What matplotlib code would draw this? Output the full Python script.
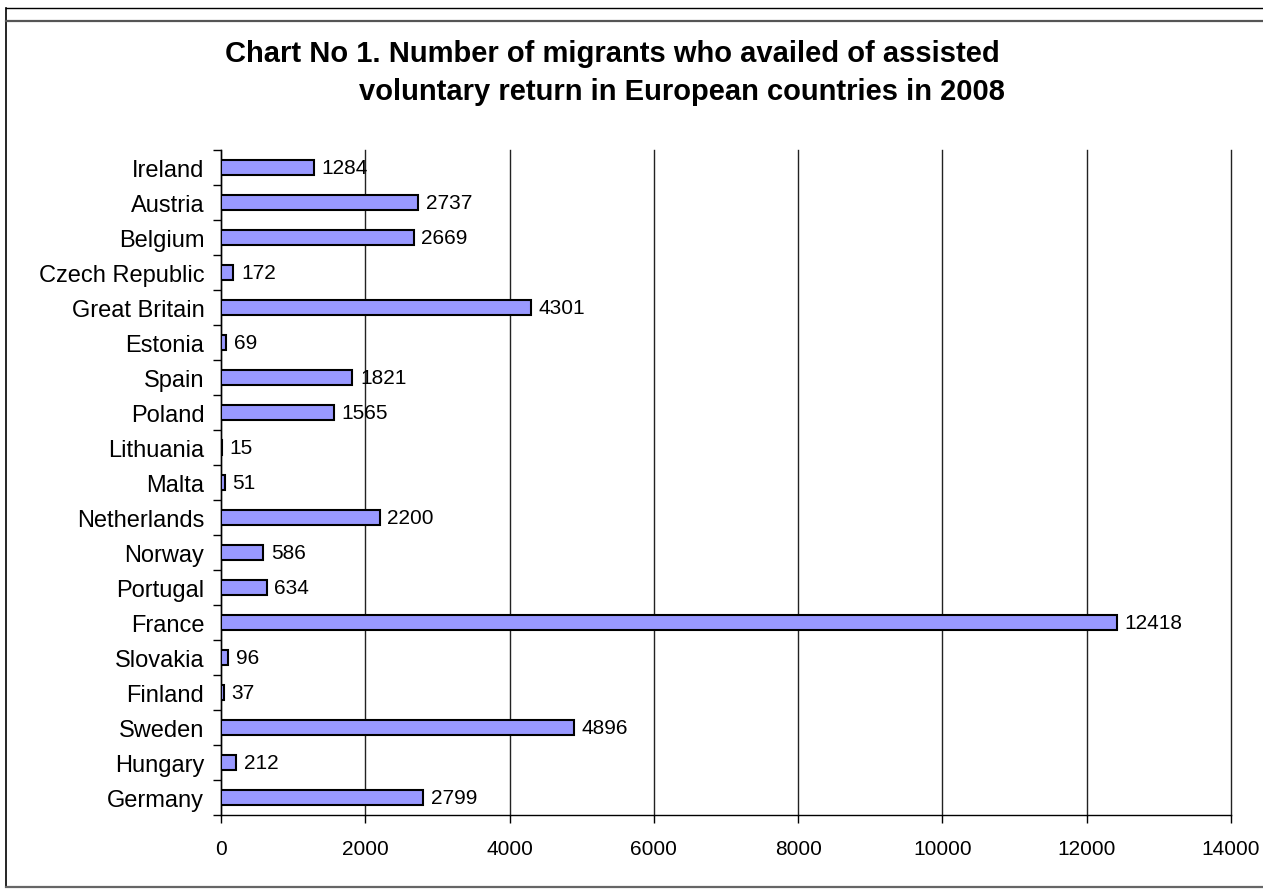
import matplotlib
matplotlib.use("Agg")
import matplotlib.pyplot as plt
from matplotlib.lines import Line2D
import numpy as np

countries = ["Ireland", "Austria", "Belgium", "Czech Republic", "Great Britain", "Estonia",
             "Spain", "Poland", "Lithuania", "Malta", "Netherlands", "Norway", "Portugal",
             "France", "Slovakia", "Finland", "Sweden", "Hungary", "Germany"]
values = [1284, 2737, 2669, 172, 4301, 69, 1821, 1565, 15, 51, 2200, 586, 634,
          12418, 96, 37, 4896, 212, 2799]
xticks = [0, 2000, 4000, 6000, 8000, 10000, 12000, 14000]
title_line1 = "Chart No 1. Number of migrants who availed of assisted"
title_line2 = "voluntary return in European countries in 2008"

plt.rcParams['font.family'] = ['Liberation Sans', 'DejaVu Sans']

W, H = 1263, 895
fig = plt.figure(figsize=(W / 100, H / 100), dpi=100)

# outer frame
fig.add_artist(Line2D([6 / W, 6 / W], [1 - 9 / H, 1 - 888 / H], color='black', lw=1.2, transform=fig.transFigure))
fig.add_artist(Line2D([6 / W, 1], [1 - 9 / H, 1 - 9 / H], color='black', lw=1.0, transform=fig.transFigure))
fig.add_artist(Line2D([6 / W, 1], [1 - 22 / H, 1 - 22 / H], color='#555555', lw=1.6, transform=fig.transFigure))
fig.add_artist(Line2D([6 / W, 1], [1 - 888 / H, 1 - 888 / H], color='#666666', lw=1.6, transform=fig.transFigure))

left, right, top, bottom = 221 / W, 1231 / W, 1 - 151 / H, 1 - 816 / H
ax = fig.add_axes([left, bottom, right - left, top - bottom])

y = np.arange(len(countries))
ax.barh(y, values, height=0.42, color='#9999FF', edgecolor='black', linewidth=1.5, zorder=3)
for yi, v in zip(y, values):
    ax.annotate(str(v), xy=(v, yi), xytext=(5.5, 0), textcoords='offset points',
                va='center', ha='left', fontsize=15)

ax.set_xlim(0, 14000)
ax.set_ylim(len(countries) - 0.5, -0.5)
ax.set_xticks(xticks)
ax.set_xticklabels([str(t) for t in xticks], fontsize=15)
ax.tick_params(axis='x', direction='out', length=6, width=1, pad=11)
ax.set_yticks(y)
ax.set_yticklabels(countries, fontsize=17)
ax.tick_params(axis='y', which='major', length=0, pad=12)
ax.set_yticks(np.arange(len(countries) + 1) - 0.5, minor=True)
ax.tick_params(axis='y', which='minor', direction='out', length=6, width=1)
ax.grid(axis='x', color='#222222', lw=1.0, zorder=0)
for gl in ax.get_xgridlines():
    gl.set_clip_on(False)
for s in ['top', 'right']:
    ax.spines[s].set_visible(False)
ax.spines['left'].set_linewidth(1.0)
ax.spines['bottom'].set_linewidth(1.0)

fig.text(612 / W, 1 - 61.5 / H, title_line1, ha='center', va='baseline', fontsize=21, fontweight='bold')
fig.text(682 / W, 1 - 100.5 / H, title_line2, ha='center', va='baseline', fontsize=21, fontweight='bold')

fig.savefig("out.png", dpi=100)
